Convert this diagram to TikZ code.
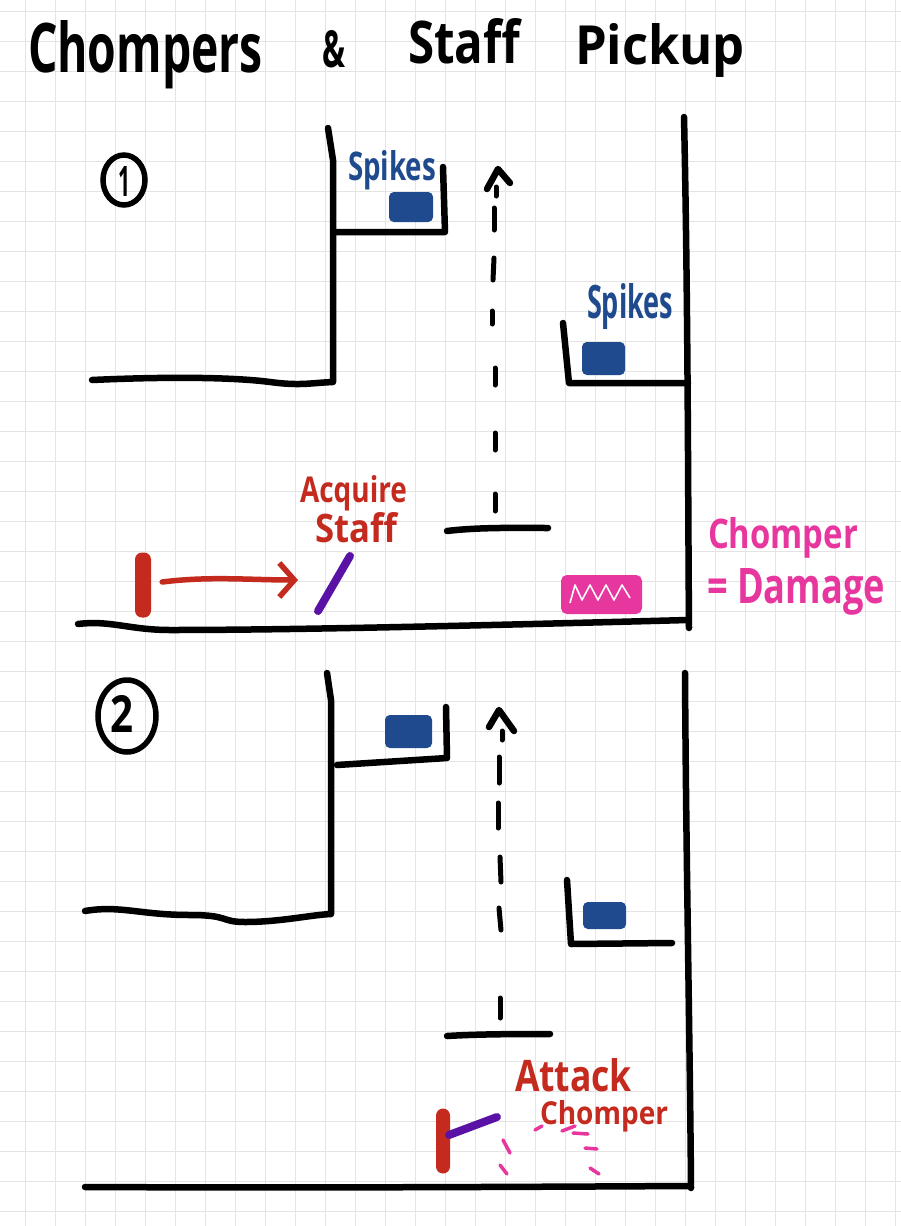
\documentclass[tikz,border=0pt]{standalone}
\usepackage{fontspec}
\setmainfont{Open Sans}
\usepackage{graphicx}
\usetikzlibrary{arrows.meta}
\definecolor{gridc}{HTML}{E4E4E4}
\definecolor{spikeblue}{HTML}{1F4A8E}
\definecolor{herored}{HTML}{C42A1E}
\definecolor{staffpurple}{HTML}{5A12A6}
\definecolor{chomppink}{HTML}{E8369F}
\newcommand\fitbox[3]{\resizebox{#1pt}{#2pt}{#3}}
\begin{document}
\begin{tikzpicture}[x=1pt,y=-1pt,
  wall/.style={line width=6.5pt, line cap=round, line join=round, black},
  spikebox/.style={fill=spikeblue, draw=spikeblue, line width=2pt, rounded corners=4pt},
  chomperbox/.style={fill=chomppink, draw=chomppink, line width=2pt, rounded corners=5pt},
  teeth/.style={white, line width=1.6pt, line join=round},
  heronode/.style={fill=herored, draw=none, rounded corners=7pt, minimum width=16pt, minimum height=65pt, inner sep=0pt},
  staffline/.style={staffpurple, line width=8pt, line cap=round},
  movearrow/.style={herored, line width=5.5pt, line cap=round, -{Straight Barb[length=15pt,width=34pt,line width=5.5pt]}},
  jumpdash/.style={black, line width=5pt, line cap=round},
  caret/.style={black, line width=6.5pt, line cap=round, line join=round},
  hintdash/.style={chomppink, line width=3.5pt, line cap=round},
  numring/.style={black, line width=5.5pt},
  lbl/.style={inner sep=0pt, outer sep=0pt, anchor=base west, font=\bfseries}
]
\useasboundingbox (0,0) rectangle (901,1226);
\fill[white] (0,0) rectangle (901,1226);
% grid
\foreach \k in {0,...,29} \draw[gridc, line width=1pt] (25.7+30*\k,0) -- (25.7+30*\k,1226);
\foreach \k in {0,...,40} \draw[gridc, line width=1pt] (0,11.7+30*\k) -- (901,11.7+30*\k);

% title
\node[lbl] (t1) at (28,72) {\fitbox{235}{52}{Chompers}};
\node[lbl] (t2) at (322,67) {\fitbox{23}{37}{\&}};
\node[lbl] (t3) at (408,63) {\fitbox{112}{45}{Staff}};
\node[lbl] (t4) at (575,64) {\fitbox{170}{41}{Pickup}};

% ================= panel 1 =================
\draw[numring] (124,180) ellipse [x radius=21, y radius=25];
\node[font=\bfseries] (n1) at (124,181) {\fitbox{12}{30}{1}};

% left ledge + wall
\draw[wall] (92,380) .. controls (180,376) and (240,378) .. (270,382) .. controls (300,386) and (310,383) .. (333,382) -- (333,160) -- (328,128);
% upper spike box
\draw[wall] (335,232) -- (445,232) -- (443,167);
\draw[spikebox] (390,193) rectangle (432,221);
\node[lbl, text=spikeblue] (sp1) at (348,180) {\fitbox{88}{30}{Spikes}};
% right wall
\draw[wall] (684,117) .. controls (688,300) and (688,500) .. (689,628);
% right spike box
\draw[wall] (563,323) -- (569,383) -- (688,383);
\draw[spikebox] (583,343) rectangle (624,374);
\node[lbl, text=spikeblue] (sp2) at (587,318) {\fitbox{86}{35}{Spikes}};
% platform
\draw[wall] (447,531) .. controls (480,527) and (520,528) .. (548,528);
% dashed jump path
\draw[jumpdash] (496,187) -- (496,196);
\draw[jumpdash] (494,208) -- (494,230);
\draw[jumpdash] (494,258) -- (493,280);
\draw[jumpdash] (492,311) -- (492,324);
\draw[jumpdash] (495,368) -- (495,385);
\draw[jumpdash] (495,433) -- (495,450);
\draw[jumpdash] (495,494) -- (495,511);
\draw[caret] (487,189) -- (498,169) -- (510,183);
% floor
\draw[wall] (78,624) .. controls (110,620) and (130,630) .. (170,630) .. controls (300,630) and (500,625) .. (688,620);
% hero, arrow, staff
\node[heronode] (hero1) at (143,585) {};
\coordinate (staff1top) at (350,556);
\coordinate (staff1bot) at (318,611);
\draw[staffline] (staff1bot) -- (staff1top);
\coordinate (arrow1end) at (298,580);
\draw[movearrow] ([xshift=11pt,yshift=3pt]hero1.east) .. controls (210,576) and (250,580) .. (arrow1end);
\node[lbl, text=herored] (acq) at (300,502) {\fitbox{107}{27}{Acquire}};
\node[lbl, text=herored] (acq2) at (315,542) {\fitbox{82}{30}{Staff}};
% chomper
\draw[chomperbox] (562,576) rectangle (641,613);
\draw[teeth] (570,603) -- (575,585) -- (582,600) -- (590,585) -- (598,600) -- (606,585) -- (614,600) -- (622,585) -- (630,598);
\node[lbl, text=chomppink] (ch1) at (708,548) {\fitbox{150}{31}{Chomper}};
\node[lbl, text=chomppink] (ch2) at (707,603) {\fitbox{178}{35}{= Damage}};

% ================= panel 2 =================
\draw[numring] (127,716) ellipse [x radius=29, y radius=36];
\node[font=\bfseries] (n2) at (122,714) {\fitbox{23}{37}{2}};
% left ledge + wall
\draw[wall] (85,911) .. controls (120,905) and (140,915) .. (190,915) .. controls (230,915) and (220,922) .. (245,922) .. controls (280,922) and (310,915) .. (331,914) -- (331,700) -- (327,673);
% upper spike box
\draw[wall] (337,765) -- (447,758) -- (446,707);
\draw[spikebox] (386,716) rectangle (431,747);
% right wall
\draw[wall] (685,673) .. controls (686,850) and (690,1050) .. (691,1188);
% right spike box
\draw[wall] (567,880) -- (571,944) -- (672,943);
\draw[spikebox] (584,903) rectangle (625,928);
% platform
\draw[wall] (447,1036) .. controls (480,1034) and (520,1034) .. (550,1034);
% dashed jump path
\draw[jumpdash] (502,731) -- (502,740);
\draw[jumpdash] (499,757) -- (499,783);
\draw[jumpdash] (498,803) -- (498,828);
\draw[jumpdash] (500,857) -- (501,882);
\draw[jumpdash] (499,908) -- (501,930);
\draw[jumpdash] (500,998) -- (500,1018);
\draw[caret] (489,727) -- (499,710) -- (514,731);
% floor
\draw[wall] (85,1187) .. controls (300,1188) and (500,1187) .. (690,1186);
% hero + staff
\node[heronode, minimum width=14pt] (hero2) at (443,1141) {};
\coordinate (staff2top) at (497,1117);
\draw[staffline] (hero2.center) ++(6pt,6pt) -- (staff2top);
% chomper outline hints
\draw[hintdash] (503,1140) -- (510,1153);
\draw[hintdash] (500,1165) -- (507,1174);
\draw[hintdash] (535,1130) -- (542,1126);
\draw[hintdash] (562,1131) -- (575,1126);
\draw[hintdash] (573,1133) -- (588,1134);
\draw[hintdash] (585,1148) -- (597,1149);
\draw[hintdash] (590,1168) -- (599,1174);
\node[lbl, text=herored] (att1) at (515,1091) {\fitbox{117}{33}{Attack}};
\node[lbl, text=herored] (att2) at (540,1124) {\fitbox{128}{24}{Chomper}};
\end{tikzpicture}
\end{document}
